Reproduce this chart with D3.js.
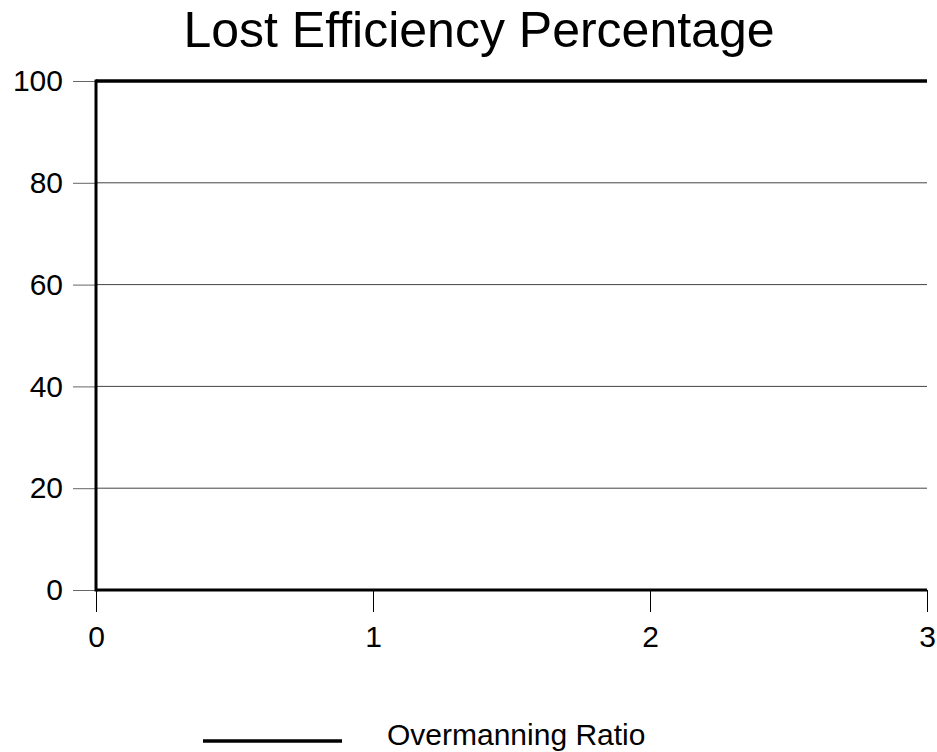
<!DOCTYPE html>
<html>
<head>
<meta charset="utf-8">
<script src="https://cdn.jsdelivr.net/npm/d3@7"></script>
<style>
  body { margin: 0; background: #fff; }
  text { font-family: "Liberation Sans", Arial, sans-serif; }
</style>
</head>
<body>
<svg></svg>
<script>
const xValues = [0, 1, 2, 3];
const overmanning = [100, 100, 100, 100];
const yTicks = [0, 20, 40, 60, 80, 100];
const xTicks = [0, 1, 2, 3];

const svg = d3.select('svg').attr('width', 937).attr('height', 752);

const LEFT = 96, RIGHT = 927, TOP = 81, BOTTOM = 590;

const x = d3.scaleLinear().domain([0, 3]).range([LEFT, RIGHT]);
const y = d3.scaleLinear().domain([0, 100]).range([BOTTOM, TOP]);

// title
svg.append('text')
  .attr('x', 479).attr('y', 47)
  .attr('text-anchor', 'middle')
  .style('font-size', '50px')
  .text('Lost Efficiency Percentage');

// horizontal grid
svg.append('g')
  .selectAll('line')
  .data(yTicks.filter(d => d > 0 && d < 100))
  .join('line')
  .attr('x1', LEFT).attr('x2', RIGHT)
  .attr('y1', d => y(d)).attr('y2', d => y(d))
  .attr('stroke', '#444').attr('stroke-width', 1);

// left axis
const yAxis = d3.axisLeft(y).tickValues(yTicks).tickFormat(d3.format('d'))
  .tickSize(23).tickPadding(10).tickSizeOuter(0);
const yAxisG = svg.append('g').attr('transform', `translate(${LEFT}, 0)`).call(yAxis);
yAxisG.select('.domain').remove();
yAxisG.selectAll('.tick line').attr('stroke', '#666');
yAxisG.selectAll('text').style('font-size', '30px').attr('fill', '#000');

// bottom axis
const xAxis = d3.axisBottom(x).tickValues(xTicks).tickFormat(d3.format('d'))
  .tickSize(22).tickPadding(14).tickSizeOuter(0);
const xAxisG = svg.append('g').attr('transform', `translate(0, ${BOTTOM})`).call(xAxis);
xAxisG.select('.domain').remove();
xAxisG.selectAll('.tick line').attr('stroke', '#000');
xAxisG.selectAll('text').style('font-size', '30px').attr('fill', '#000');

// axis frame lines
svg.append('line')
  .attr('x1', LEFT).attr('x2', LEFT).attr('y1', TOP - 1.5).attr('y2', BOTTOM + 1.5)
  .attr('stroke', '#000').attr('stroke-width', 3);
svg.append('line')
  .attr('x1', LEFT).attr('x2', RIGHT).attr('y1', BOTTOM).attr('y2', BOTTOM)
  .attr('stroke', '#000').attr('stroke-width', 3);

// series
const line = d3.line().x((d, i) => x(xValues[i])).y(d => y(d));
svg.append('path')
  .datum(overmanning)
  .attr('d', line)
  .attr('fill', 'none')
  .attr('stroke', '#000')
  .attr('stroke-width', 3.5);

// legend
svg.append('line')
  .attr('x1', 203).attr('x2', 342).attr('y1', 741).attr('y2', 741)
  .attr('stroke', '#000').attr('stroke-width', 3.5);
svg.append('text')
  .attr('x', 387).attr('y', 745)
  .style('font-size', '30px')
  .text('Overmanning Ratio');
</script>
</body>
</html>
